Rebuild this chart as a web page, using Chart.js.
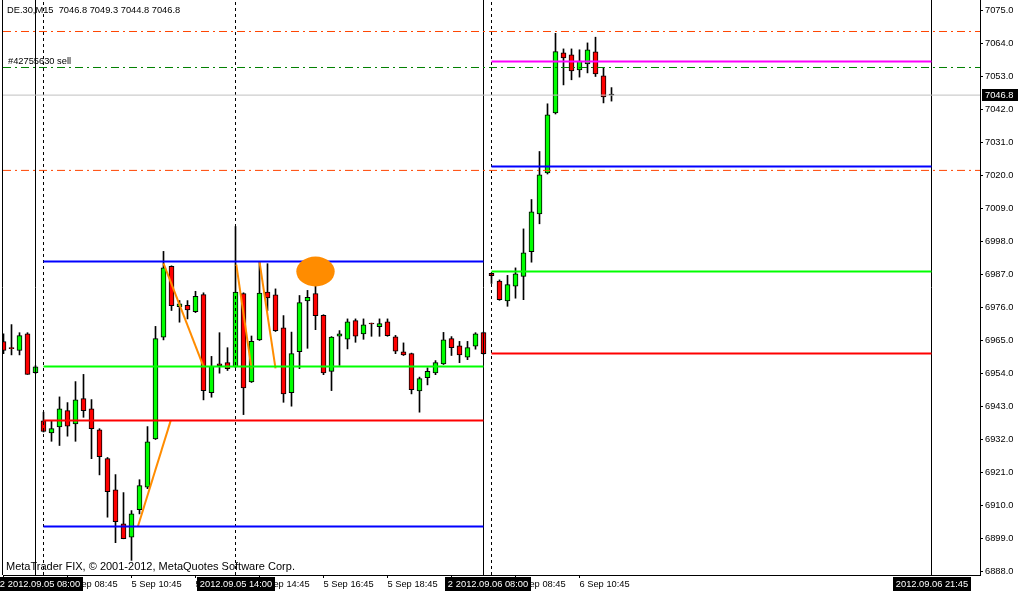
<!DOCTYPE html>
<html>
<head>
<meta charset="utf-8">
<title>DE.30,M15</title>
<script src="https://cdn.jsdelivr.net/npm/chart.js@4.4.0/dist/chart.umd.min.js"></script>
<style>
  html, body { margin: 0; padding: 0; background: #fff; }
  canvas { display: block; }
</style>
</head>
<body>
<canvas id="c" width="1018" height="592"></canvas>
<script>
// DE.30 M15 bars, bar 0 = 2012.09.05 08:00, one step per 15 min (gaps skipped)
const firstBar = -5;
const opens = [
  6964.6, 6962.6, 6961.7, 6967.2, 6954.3,
  6938.2, 6934.2, 6936.2, 6941.6, 6937.2, 6945.6, 6942.2, 6935.2, 6925.6, 6915.2,
  6903.9, 6899.4, 6908.6, 6916.1, 6932.2, 6966.1, 6989.7, 6976.3, 6976.7, 6974.6,
  6980.3, 6947.6, 6957.2, 6957.6, 6956.3, 6980.6, 6951.2, 6965.2, 6981.1, 6980.2,
  6969.2, 6947.6, 6961.3, 6978.2, 6980.6, 6973.4, 6954.7, 6966.4, 6965.4, 6971.6,
  6967.2, 6970.7, 6969.6, 6971.2, 6966.2, 6961.2, 6960.6, 6948.2, 6952.6, 6954.2,
  6957.2, 6965.6, 6963.2, 6959.4, 6963.1, 6967.6, 6987.4, 6984.8, 6978.2, 6983.1,
  6986.4, 6994.6, 7007.2, 7020.9, 7040.9, 7060.9, 7060.2, 7055.2, 7057.2, 7061.2,
  7053.2, 7046.8
];
const highs = [
  6967.2, 6970.3, 6967.6, 6967.6, 6956.6,
  6941.1, 6938.1, 6946.2, 6944.3, 6951.3, 6953.7, 6945.3, 6935.6, 6926.0, 6920.3,
  6914.3, 6908.3, 6918.6, 6936.3, 6969.7, 6994.7, 6989.9, 6978.3, 6978.3, 6981.4,
  6980.9, 6959.7, 6967.6, 6962.6, 7003.0, 6980.9, 6966.5, 6991.1, 6990.6, 6982.2,
  6973.3, 6967.8, 6980.0, 6981.7, 6983.9, 6973.6, 6966.3, 6968.3, 6972.2, 6972.2,
  6972.2, 6970.8, 6972.2, 6972.2, 6966.7, 6964.2, 6960.8, 6952.8, 6955.9, 6958.3,
  6967.7, 6966.3, 6964.7, 6964.7, 6967.6, 6967.8, 6987.5, 6985.2, 6986.7, 6989.2,
  7002.2, 7012.0, 7028.0, 7043.9, 7067.4, 7062.2, 7062.2, 7061.9, 7064.2, 7066.1,
  7055.9, 7049.3
];
const lows = [
  6960.6, 6960.2, 6960.2, 6953.7, 6954.0,
  6934.5, 6931.4, 6930.0, 6933.1, 6931.4, 6939.4, 6925.6, 6920.2, 6906.1, 6897.6,
  6898.9, 6891.7, 6907.2, 6915.6, 6932.0, 6965.2, 6975.0, 6971.1, 6972.2, 6974.3,
  6945.2, 6946.1, 6954.1, 6955.0, 6956.0, 6940.3, 6951.0, 6965.0, 6975.0, 6968.0,
  6944.4, 6943.1, 6955.6, 6962.4, 6968.6, 6953.6, 6948.3, 6956.7, 6962.2, 6964.4,
  6965.4, 6966.4, 6966.4, 6966.4, 6960.6, 6960.0, 6947.2, 6941.1, 6950.2, 6953.6,
  6957.0, 6960.0, 6957.6, 6958.6, 6962.1, 6960.4, 6984.0, 6978.4, 6976.4, 6979.1,
  6978.6, 6991.1, 7003.9, 7020.5, 7040.5, 7050.2, 7051.9, 7052.8, 7054.2, 7053.0,
  7044.2, 7044.8
];
const closes = [
  6961.7, 6962.3, 6966.6, 6953.7, 6956.2,
  6934.7, 6935.6, 6942.2, 6936.4, 6945.2, 6941.6, 6935.6, 6926.3, 6914.6, 6904.6,
  6898.9, 6907.2, 6916.6, 6931.2, 6965.6, 6989.2, 6976.6, 6977.2, 6975.2, 6979.7,
  6948.3, 6956.4, 6956.6, 6955.6, 6981.1, 6949.2, 6964.7, 6980.8, 6979.2, 6968.3,
  6947.2, 6960.6, 6977.6, 6979.4, 6973.3, 6954.2, 6966.1, 6967.2, 6971.2, 6966.4,
  6970.2, 6970.5, 6970.6, 6966.6, 6961.4, 6960.2, 6948.6, 6952.3, 6954.7, 6957.6,
  6965.2, 6962.6, 6960.2, 6962.6, 6967.2, 6960.6, 6986.6, 6978.6, 6983.6, 6987.2,
  6994.2, 7007.9, 7020.2, 7040.2, 7061.3, 7059.2, 7054.9, 7058.1, 7061.9, 7053.9,
  7046.2, 7046.8
];

const yTicks = [6888, 6899, 6910, 6921, 6932, 6943, 6954, 6965, 6976, 6987,
                6998, 7009, 7020, 7031, 7042, 7053, 7064, 7075];
const xTicks = [-5, 3, 11, 19, 27, 35, 43, 51, 59, 67];
const xTickLabels = ['5 Sep 06:45', '5 Sep 08:45', '5 Sep 10:45', '5 Sep 12:45', '5 Sep 14:45',
                     '5 Sep 16:45', '5 Sep 18:45', '5 Sep 20:45', '6 Sep 08:45', '6 Sep 10:45'];

const header = 'DE.30,M15  7046.8 7049.3 7044.8 7046.8';
const orderLabel = '#42755630 sell';
const copyright = 'MetaTrader FIX, \u00a9 2001-2012, MetaQuotes Software Corp.';
const bid = 7046.8;

// horizontal levels drawn between two bars
const levelPrices = [6991.3, 6956.3, 6938.3, 6903.0, 7058.0, 7023.0, 6988.0, 6960.7];
const levelFrom   = [0, 0, 0, 0, 56, 56, 56, 56];
const levelTo     = [55, 55, 55, 55, 111, 111, 111, 111];
const levelColors = ['#0000ff', '#00ff00', '#ff0000', '#0000ff', '#ff00ff', '#0000ff', '#00ff00', '#ff0000'];

// order lines: open price, stop loss, take profit
const orderOpen = 7056.0;
const orderSL = 7068.0;
const orderTP = 7021.7;

// vertical lines (bar index) and their time labels
const vBars   = [-1, 55, 0, 56, 24, 111];
const vDashed = [false, false, true, true, true, false];
const vLabels = ['2012.09.05 07:45', '2012.09.05 21:45', '2012.09.05 08:00',
                 '2012.09.06 08:00', '2012.09.05 14:00', '2012.09.06 21:45'];

// orange trend lines [bar, price] -> [bar, price]
const trendStart = [[11.8, 6903.0], [15, 6990.7], [24.1, 6990.3], [27, 6991.3]];
const trendEnd   = [[15.9, 6938.3], [20, 6956.3], [26, 6955.7], [29, 6955.7]];

// orange ellipse marker: centre [bar, price], half size [bars, points]
const markCenter = [34, 6988];
const markHalf = [2.4, 5];

const xMin = -5.0625, xMax = 117.0625;
const yMin = 6886.83, yMax = 7078.5;

const FONT = 'Liberation Sans';
Chart.defaults.font.family = FONT;
Chart.defaults.font.size = 9.3;
Chart.defaults.color = '#000';

const bars = opens.map((o, i) => firstBar + i);
const bodyColor = i => closes[i] > opens[i] ? '#00ff00' : (closes[i] < opens[i] ? '#ff0000' : '#000000');

function seg(x1, y1, x2, y2, color, width, dash) {
  return {
    type: 'line', data: [{ x: x1, y: y1 }, { x: x2, y: y2 }],
    borderColor: color, borderWidth: width, borderDash: dash || [],
    pointRadius: 0, fill: false, tension: 0, order: 1,
  };
}

const datasets = [];
// candles
datasets.push({
  type: 'bar', data: bars.map((k, i) => ({ x: k, y: [opens[i], closes[i]] })),
  backgroundColor: c => bodyColor(c.dataIndex), borderColor: '#000', borderWidth: 1,
  borderSkipped: false, barThickness: 5, minBarLength: 1, grouped: false, order: 10,
});
datasets.push({
  type: 'bar', data: bars.map((k, i) => ({ x: k, y: [lows[i], highs[i]] })),
  backgroundColor: '#000', borderWidth: 0, barThickness: 1, grouped: false, order: 11,
});
// order lines + bid
datasets.push(seg(xMin, orderSL, xMax, orderSL, '#ff4500', 1, [8, 4, 2, 4]));
datasets.push(seg(xMin, orderTP, xMax, orderTP, '#ff4500', 1, [8, 4, 2, 4]));
datasets.push(seg(xMin, orderOpen, xMax, orderOpen, '#008000', 1, [8, 4, 2, 4]));
datasets.push(seg(xMin, bid, xMax, bid, '#c0c0c0', 1));
// levels
levelPrices.forEach((p, i) => datasets.push(seg(levelFrom[i], p, levelTo[i], p, levelColors[i], 2)));
// vertical lines
vBars.forEach((k, i) => datasets.push(seg(k, yMin, k, yMax, '#000', 1, vDashed[i] ? [3, 3] : [])));
// trend lines
trendStart.forEach((s, i) => datasets.push(seg(s[0], s[1], trendEnd[i][0], trendEnd[i][1], '#ff8c00', 2)));

const mtPlugin = {
  id: 'mt',
  afterDatasetsDraw(chart) {
    const { ctx, chartArea: a, scales: { x, y } } = chart;
    ctx.save();
    // ellipse marker
    const cx = x.getPixelForValue(markCenter[0]), cy = y.getPixelForValue(markCenter[1]);
    const rx = x.getPixelForValue(markCenter[0] + markHalf[0]) - cx;
    const ry = cy - y.getPixelForValue(markCenter[1] + markHalf[1]);
    ctx.fillStyle = '#ff8c00';
    ctx.beginPath(); ctx.ellipse(cx, cy, rx, ry, 0, 0, Math.PI * 2); ctx.fill();
    // left frame
    ctx.strokeStyle = '#000'; ctx.lineWidth = 1;
    ctx.beginPath(); ctx.moveTo(a.left - 0.5, a.top); ctx.lineTo(a.left - 0.5, a.bottom); ctx.stroke();
    ctx.restore();
  },
  afterDraw(chart) {
    const { ctx, scales: { x, y } } = chart;
    ctx.save();
    ctx.textBaseline = 'middle';
    ctx.fillStyle = '#000';
    ctx.font = '9.3px ' + FONT;
    ctx.fillText(header, 7, 10.5);
    ctx.fillText(orderLabel, 8, 61.5);
    ctx.font = '11px ' + FONT;
    ctx.fillText(copyright, 6, 567);
    // time labels of vertical lines
    ctx.font = '9.3px ' + FONT;
    ctx.textAlign = 'center';
    vBars.forEach((k, i) => {
      const px = Math.round(x.getPixelForValue(k));
      ctx.fillStyle = '#000';
      ctx.fillRect(px - 39, 577, 78, 14);
      ctx.fillStyle = '#fff';
      ctx.fillText(vLabels[i], px, 584.5);
    });
    // bid price tag
    const by = Math.round(y.getPixelForValue(bid));
    ctx.fillStyle = '#000';
    ctx.fillRect(982, by - 6, 36, 12);
    ctx.fillStyle = '#fff';
    ctx.textAlign = 'left';
    ctx.fillText(bid.toFixed(1), 985, by + 0.5);
    ctx.restore();
  },
};

new Chart(document.getElementById('c'), {
  type: 'bar',
  data: { datasets },
  plugins: [mtPlugin],
  options: {
    responsive: false, animation: false, events: [],
    layout: { padding: { left: 3, top: 0, right: 0, bottom: 0 } },
    plugins: { legend: { display: false }, tooltip: { enabled: false } },
    scales: {
      x: {
        type: 'linear', min: xMin, max: xMax, offset: false,
        grid: { drawOnChartArea: false, tickLength: 3, color: '#000', offset: false },
        border: { display: true, color: '#000' },
        afterBuildTicks: s => { s.ticks = xTicks.map(v => ({ value: v })); },
        afterFit: s => { s.height = 17; s.paddingLeft = 0; s.paddingRight = 0; },
        ticks: {
          autoSkip: false, maxRotation: 0, minRotation: 0, align: 'start', padding: 1,
          color: '#000', callback: (v, i) => xTickLabels[i],
        },
      },
      y: {
        type: 'linear', position: 'right', min: yMin, max: yMax,
        grid: { drawOnChartArea: false, tickLength: 3, color: '#000' },
        border: { display: true, color: '#000' },
        afterBuildTicks: s => { s.ticks = yTicks.map(v => ({ value: v })); },
        afterFit: s => { s.width = 38; s.paddingTop = 0; s.paddingBottom = 0; },
        ticks: { padding: 2, color: '#000', callback: v => v.toFixed(1) },
      },
    },
  },
});
</script>
</body>
</html>
